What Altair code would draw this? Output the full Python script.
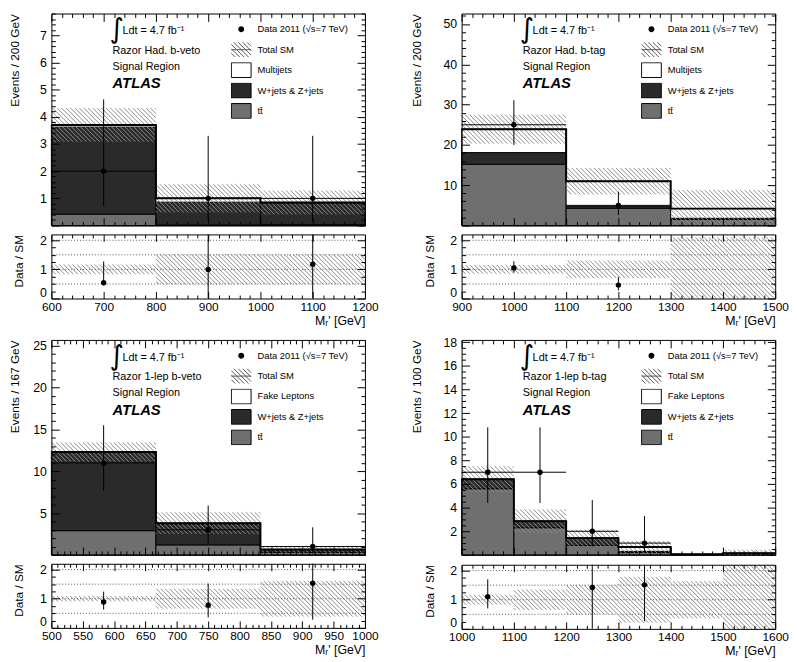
import numpy as np
import pandas as pd
import altair as alt

# ---------------------------------------------------------------
# values (events per bin, data with Poisson bars)
# ---------------------------------------------------------------
# Razor Had. b-veto
hv_edges = [600, 800, 1000, 1200]
hv_ttbar = [0.42, 0.02, 0.03]
hv_wz = [3.20, 0.84, 0.80]
hv_other = [0.08, 0.14, 0.02]
hv_err = [0.62, 0.52, 0.44]
hv_data_x = [700, 900, 1100]
hv_data = [2, 1, 1]
hv_data_hi = [4.64, 3.30, 3.30]
hv_data_lo = [0.71, 0.17, 0.17]
hv_ratio_x = [700, 900, 1100]
hv_ratio = [0.54, 1.00, 1.18]
hv_ratio_hi = [1.27, 3.30, 3.90]
hv_ratio_lo = [0.45, 0.00, 0.00]
hv_xticks = [600, 700, 800, 900, 1000, 1100, 1200]
hv_yticks = [1, 2, 3, 4, 5, 6, 7]
hv_text = ["Razor Had. b-veto", "Signal Region"]

# Razor Had. b-tag
hb_edges = [900, 1100, 1300, 1500]
hb_ttbar = [15.2, 4.3, 1.5]
hb_wz = [2.9, 0.5, 0.3]
hb_other = [5.8, 6.2, 2.4]
hb_err = [3.6, 3.3, 4.6]
hb_data_x = [1000, 1200]
hb_data = [25, 5]
hb_data_hi = [31.1, 8.4]
hb_data_lo = [20.0, 2.6]
hb_ratio_x = [1000, 1200]
hb_ratio = [1.05, 0.46]
hb_ratio_hi = [1.28, 0.74]
hb_ratio_lo = [0.89, 0.28]
hb_xticks = [900, 1000, 1100, 1200, 1300, 1400, 1500]
hb_yticks = [10, 20, 30, 40, 50]
hb_text = ["Razor Had. b-tag", "Signal Region"]

# Razor 1-lep b-veto
lv_edges = [500, 666.7, 833.3, 1000]
lv_ttbar = [2.9, 1.2, 0.3]
lv_wz = [9.35, 2.5, 0.33]
lv_other = [0.05, 0.1, 0.02]
lv_err = [1.15, 1.3, 0.4]
lv_data_x = [583.3, 750, 916.7]
lv_data = [11, 3, 1]
lv_data_hi = [15.5, 5.9, 3.3]
lv_data_lo = [7.7, 1.4, 0.17]
lv_ratio_x = [583.3, 750, 916.7]
lv_ratio = [0.89, 0.78, 1.53]
lv_ratio_hi = [1.24, 1.52, 3.5]
lv_ratio_lo = [0.63, 0.36, 0.28]
lv_xticks = [500, 550, 600, 650, 700, 750, 800, 850, 900, 950, 1000]
lv_yticks = [5, 10, 15, 20, 25]
lv_text = ["Razor 1-lep b-veto", "Signal Region"]

# Razor 1-lep b-tag
lb_edges = [1000, 1100, 1200, 1300, 1400, 1500, 1600]
lb_ttbar = [5.6, 2.3, 0.8, 0.2, 0.03, 0.1]
lb_wz = [0.8, 0.55, 0.62, 0.1, 0.01, 0.0]
lb_other = [0.0, 0.0, 0.0, 0.36, 0.01, 0.05]
lb_err = [1.1, 1.0, 0.71, 0.52, 0.032, 0.3]
lb_data_x = [1050, 1150, 1250, 1350]
lb_data = [7, 7, 2, 1]
lb_data_hi = [10.8, 10.8, 4.64, 3.3]
lb_data_lo = [4.4, 4.4, 0.71, 0.17]
lb_ratio_x = [1050, 1250, 1350]
lb_ratio = [1.10, 1.42, 1.51]
lb_ratio_hi = [1.70, 3.3, 3.5]
lb_ratio_lo = [0.70, 0.0, 0.26]
lb_xticks = [1000, 1100, 1200, 1300, 1400, 1500, 1600]
lb_yticks = [2, 4, 6, 8, 10, 12, 14, 16, 18]
lb_text = ["Razor 1-lep b-tag", "Signal Region"]

ratio_guides = [0.5, 1.0, 1.5, 2.0]

# ---------------------------------------------------------------
# style
# ---------------------------------------------------------------
FONT = "Liberation Sans"
W, HR = 318, 65
RMAX = 2.2
TT_GREY = "#6f6f6f"
WZ_GREY = "#2a2a2a"
HATCH_GREY = "#8c8c8c"
DATA_LABEL = "Data 2011 (\u221as=7 TeV)"
XTITLE = "M\u1d63' [GeV]"
LUMI = "Ldt = 4.7 fb\u207b\u00b9"

BOX = "M-1,-0.75H1V0.75H-1Z"
# dot with two zero-area edge strokes so that its legend row is as tall as the boxes
DOT = "M-1,-0.75L-1,0.75M1,-0.75L1,0.75M0.3,0A0.3,0.3,0,1,1,-0.3,0A0.3,0.3,0,1,1,0.3,0Z"


def hatch_symbol(step=0.45):
    segs = ["M-1,0L1,0"]
    for k in range(int(np.ceil(-1.75 / step)), int(np.floor(1.75 / step)) + 1):
        c = k * step
        xs, xe = max(-1.0, -0.75 + c), min(1.0, 0.75 + c)
        if xe > xs:
            segs.append(f"M{xs:.3f},{xs - c:.3f}L{xe:.3f},{xe - c:.3f}")
    return "".join(segs)


def ticks_between(lo, hi, step):
    n = int(np.floor((hi - lo) / step + 1e-6))
    return [round(lo + i * step, 6) for i in range(n + 1)]


def tick_len(step, major, minor):
    test = f"abs(datum.value / {step} - round(datum.value / {step})) < 0.001"
    return {"condition": {"test": test, "value": major}, "value": minor}


def hatch_frame(edges, lo, hi, xdom, ydom, h, step=4.5):
    # diagonal hatch segments of an error band, in data units
    sx = W / (xdom[1] - xdom[0])
    sy = h / (ydom[1] - ydom[0])
    rows = []
    for x0, x1, b0, b1 in zip(edges[:-1], edges[1:], lo, hi):
        b0, b1 = max(b0, ydom[0]), min(b1, ydom[1])
        if b1 <= b0:
            continue
        px0, px1 = (x0 - xdom[0]) * sx, (x1 - xdom[0]) * sx
        top, bot = (ydom[1] - b1) * sy, (ydom[1] - b0) * sy
        for k in range(int(np.floor((px0 - bot) / step)), int(np.ceil((px1 - top) / step)) + 1):
            c = k * step
            xs, xe = max(px0, top + c), min(px1, bot + c)
            if xe - xs < 0.5:
                continue
            rows.append({"hx": xdom[0] + xs / sx, "hx2": xdom[0] + xe / sx,
                         "hy": ydom[1] - (xs - c) / sy, "hy2": ydom[1] - (xe - c) / sy})
    return pd.DataFrame(rows, columns=["hx", "hx2", "hy", "hy2"])


def guides(frame, xf, yf, xs, ys, xdom, ydom, xstep, ystep, h, ylabels, ytitle, ext,
           xlen, ylen, xlabels=None):
    common = dict(labels=False, title=None, grid=False, domain=True, domainColor="black",
                  domainWidth=1, ticks=True, tickColor="black", tickWidth=1, zindex=1,
                  minExtent=0, maxExtent=0)
    xv = ticks_between(xdom[0], xdom[1], xstep[1])
    yv = ticks_between(ydom[0], ydom[1], ystep[1])
    xt = tick_len(xstep[0], *xlen)
    yt = tick_len(ystep[0], *ylen)
    ax_b = alt.Axis(orient="top", offset=-h, values=xv, tickSize=xt, **common)
    ax_t = alt.Axis(orient="bottom", offset=-h, values=xv, tickSize=xt, **common)
    ay_l = alt.Axis(orient="right", offset=-W, values=yv, tickSize=yt, **common)
    ay_r = alt.Axis(orient="left", offset=-W, values=yv, tickSize=yt, **common)
    zero = "datum.value == 0"
    ay_lab = alt.Axis(orient="left", values=ylabels, ticks=False, tickSize=0, domain=False,
                      grid=False, labelPadding=5, labelFontSize=12.5, labelColor="black",
                      labelFont=FONT, labelOverlap=False,
                      labelBaseline={"condition": {"test": zero, "value": "alphabetic"},
                                     "value": "middle"},
                      labelOffset={"condition": {"test": zero, "value": -2}, "value": 0},
                      title=ytitle, titleFont=FONT,
                      titleFontSize=12, titleFontWeight="normal", titleColor="black",
                      titleAnchor="end", titlePadding=4, minExtent=ext, maxExtent=ext)
    ax_lab = None
    if xlabels is not None:
        ax_lab = alt.Axis(orient="bottom", values=xlabels, format="d", ticks=False, tickSize=0,
                          domain=False, grid=False, labelPadding=3, labelFontSize=12,
                          labelColor="black", labelFont=FONT, labelFlush=False,
                          labelOverlap=False, title=XTITLE, titleFont=FONT, titleFontSize=12.5,
                          titleFontWeight="normal", titleColor="black", titleAnchor="end",
                          titlePadding=2)
    dots = alt.Chart(frame).mark_point(opacity=0)
    third_x = alt.X(f"{xf}:Q", scale=xs, axis=ax_lab) if ax_lab is not None else alt.X(
        f"{xf}:Q", scale=xs, axis=None)
    return [
        dots.encode(x=alt.X(f"{xf}:Q", scale=xs, axis=ax_b), y=alt.Y(f"{yf}:Q", scale=ys, axis=ay_l)),
        dots.encode(x=alt.X(f"{xf}:Q", scale=xs, axis=ax_t), y=alt.Y(f"{yf}:Q", scale=ys, axis=ay_r)),
        dots.encode(x=third_x, y=alt.Y(f"{yf}:Q", scale=ys, axis=ay_lab)),
    ]


def panel(p):
    hm = p["hm"]
    edges = np.array(p["edges"], dtype=float)
    s1 = np.array(p["ttbar"], dtype=float)
    s2 = s1 + np.array(p["wz"], dtype=float)
    tot = s2 + np.array(p["other"], dtype=float)
    err = np.array(p["err"], dtype=float)
    xdom = [float(edges[0]), float(edges[-1])]
    ydom = [0.0, p["ymax"]]
    rdom = [0.0, RMAX]
    xs = alt.Scale(domain=xdom, nice=False, zero=False)
    ys = alt.Scale(domain=ydom, nice=False, zero=False)
    rs = alt.Scale(domain=rdom, nice=False, zero=False)

    bins = pd.DataFrame({"lo": edges[:-1], "hi": edges[1:], "zero": 0.0,
                         "s1": s1, "s2": s2, "tot": tot})

    def X(f):
        return alt.X(f"{f}:Q", scale=xs, axis=None)

    def Y(f):
        return alt.Y(f"{f}:Q", scale=ys, axis=None)

    def R(f):
        return alt.Y(f"{f}:Q", scale=rs, axis=None)

    def stack(lo, hi, colour):
        return alt.Chart(bins).mark_rect(fill=colour, stroke="black", strokeWidth=1).encode(
            x=X("lo"), x2="hi:Q", y=Y(lo), y2=f"{hi}:Q")

    layers = [stack("zero", "s1", TT_GREY), stack("s1", "s2", WZ_GREY), stack("s2", "tot", "white")]

    band = hatch_frame(edges, tot - err, tot + err, xdom, ydom, hm)
    layers.append(alt.Chart(band).mark_rule(color=HATCH_GREY, strokeWidth=1).encode(
        x=X("hx"), x2="hx2:Q", y=Y("hy"), y2="hy2:Q"))

    step_df = pd.DataFrame({"x": edges, "y": list(tot) + [tot[-1]]})
    layers.append(alt.Chart(step_df).mark_line(interpolate="step-after", color="black",
                                               strokeWidth=2).encode(x=X("x"), y=Y("y")))

    idx = np.searchsorted(edges, p["data_x"]) - 1
    pts = pd.DataFrame({"x": p["data_x"], "v": p["data"], "hi": p["data_hi"],
                        "lo": p["data_lo"], "b0": edges[idx], "b1": edges[idx + 1]})
    layers.append(alt.Chart(pts).mark_rule(color="black", strokeWidth=1).encode(
        x=X("b0"), x2="b1:Q", y=Y("v")))
    layers.append(alt.Chart(pts).mark_rule(color="black", strokeWidth=1).encode(
        x=X("x"), y=Y("lo"), y2="hi:Q"))
    layers.append(alt.Chart(pts).mark_circle(size=30, color="black", opacity=1).encode(
        x=X("x"), y=Y("v")))

    note = pd.DataFrame({"n": [0]})

    def txt(s, x, y, font=FONT, **kw):
        return alt.Chart(note).mark_text(align="left", baseline="middle", font=font,
                                         color="black", **kw).encode(
            x=alt.value(x), y=alt.value(y), text=alt.value(s))

    layers += [
        txt("\u222b", 59, 17, font="DejaVu Sans", fontSize=28),
        txt(LUMI, 72, 18, fontSize=11),
        txt("\n".join(p["text"]), 62, 38, fontSize=11, lineBreak="\n", lineHeight=16),
        txt("ATLAS", 62, 71, fontSize=15, fontWeight="bold", fontStyle="italic"),
    ]

    cats = [DATA_LABEL, "Total SM", p["other_name"], "W+jets & Z+jets", "tt\u0304"]
    leg = alt.Legend(title=None, orient="none", legendX=182, legendY=8, symbolSize=400,
                     symbolStrokeWidth=1, symbolOpacity=1, labelFont=FONT, labelFontSize=9.5,
                     labelColor="black", labelOffset=6, rowPadding=4.7, clipHeight=16,
                     padding=0)
    layers.append(alt.Chart(pd.DataFrame({"cat": cats})).transform_filter("false").mark_point(
        filled=True, opacity=1).encode(
        x=alt.value(0), y=alt.value(0),
        fill=alt.Fill("cat:N", scale=alt.Scale(domain=cats, range=["black", "white", "white", WZ_GREY, TT_GREY]), legend=leg),
        shape=alt.Shape("cat:N", scale=alt.Scale(domain=cats, range=[DOT, hatch_symbol(), BOX, BOX, BOX]), legend=leg),
        stroke=alt.Stroke("cat:N", scale=alt.Scale(domain=cats, range=["transparent", "#555555", "black", "black", "black"]), legend=leg),
    ))

    layers += guides(bins, "lo", "zero", xs, ys, xdom, ydom, p["xstep"], p["ystep"], hm,
                     p["yticks"], p["ytitle"], p["ext"], (8, 4), (8, 4))
    main = alt.layer(*layers).properties(width=W, height=hm).resolve_axis(
        x="independent", y="independent")

    # ratio pad
    rband = hatch_frame(edges, 1 - err / tot, 1 + err / tot, xdom, rdom, HR)
    rpts = pd.DataFrame({"x": p["ratio_x"], "v": p["ratio"], "hi": p["ratio_hi"], "lo": p["ratio_lo"]})
    rl = [
        alt.Chart(rband).mark_rule(color=HATCH_GREY, strokeWidth=1).encode(
            x=X("hx"), x2="hx2:Q", y=R("hy"), y2="hy2:Q"),
        alt.Chart(pd.DataFrame({"g": ratio_guides})).mark_rule(
            color="#555555", strokeDash=[1, 2], strokeWidth=1).encode(y=R("g")),
        alt.Chart(rpts).mark_rule(color="black", strokeWidth=1, clip=True).encode(
            x=X("x"), y=R("lo"), y2="hi:Q"),
        alt.Chart(rpts).mark_circle(size=30, color="black", opacity=1, clip=True).encode(
            x=X("x"), y=R("v")),
    ]
    rframe = pd.DataFrame({"lo": edges[:-1], "zero": 0.0})
    rl += guides(rframe, "lo", "zero", xs, rs, xdom, rdom, p["xstep"], (1, 0.25), HR,
                 [0, 1, 2], "Data / SM", 22, (7, 3.5), (8, 4), xlabels=p["xticks"])
    ratio = alt.layer(*rl).properties(width=W, height=HR).resolve_axis(
        x="independent", y="independent")

    return alt.vconcat(main, ratio, spacing=5).resolve_scale(
        fill="independent", shape="independent", stroke="independent")


pa = panel(dict(edges=hv_edges, ttbar=hv_ttbar, wz=hv_wz, other=hv_other, err=hv_err,
                data_x=hv_data_x, data=hv_data, data_hi=hv_data_hi, data_lo=hv_data_lo,
                ratio_x=hv_ratio_x, ratio=hv_ratio, ratio_hi=hv_ratio_hi, ratio_lo=hv_ratio_lo,
                xticks=hv_xticks, yticks=hv_yticks, text=hv_text, other_name="Multijets",
                ytitle="Events / 200 GeV", ymax=7.8, xstep=(100, 20), ystep=(1, 0.2), ext=26,
                hm=215))
pb = panel(dict(edges=hb_edges, ttbar=hb_ttbar, wz=hb_wz, other=hb_other, err=hb_err,
                data_x=hb_data_x, data=hb_data, data_hi=hb_data_hi, data_lo=hb_data_lo,
                ratio_x=hb_ratio_x, ratio=hb_ratio, ratio_hi=hb_ratio_hi, ratio_lo=hb_ratio_lo,
                xticks=hb_xticks, yticks=hb_yticks, text=hb_text, other_name="Multijets",
                ytitle="Events / 200 GeV", ymax=52.6, xstep=(100, 20), ystep=(10, 2), ext=35,
                hm=215))
pc = panel(dict(edges=lv_edges, ttbar=lv_ttbar, wz=lv_wz, other=lv_other, err=lv_err,
                data_x=lv_data_x, data=lv_data, data_hi=lv_data_hi, data_lo=lv_data_lo,
                ratio_x=lv_ratio_x, ratio=lv_ratio, ratio_hi=lv_ratio_hi, ratio_lo=lv_ratio_lo,
                xticks=lv_xticks, yticks=lv_yticks, text=lv_text, other_name="Fake Leptons",
                ytitle="Events / 167 GeV", ymax=25.7, xstep=(50, 10), ystep=(5, 1), ext=26,
                hm=218))
pd_ = panel(dict(edges=lb_edges, ttbar=lb_ttbar, wz=lb_wz, other=lb_other, err=lb_err,
                 data_x=lb_data_x, data=lb_data, data_hi=lb_data_hi, data_lo=lb_data_lo,
                 ratio_x=lb_ratio_x, ratio=lb_ratio, ratio_hi=lb_ratio_hi, ratio_lo=lb_ratio_lo,
                 xticks=lb_xticks, yticks=lb_yticks, text=lb_text, other_name="Fake Leptons",
                 ytitle="Events / 100 GeV", ymax=18.2, xstep=(100, 20), ystep=(2, 0.5), ext=35,
                 hm=218))

indep = dict(fill="independent", shape="independent", stroke="independent")
top = alt.hconcat(pa, pb, spacing=31).resolve_scale(**indep)
bottom = alt.hconcat(pc, pd_, spacing=31).resolve_scale(**indep)

chart = alt.vconcat(top, bottom, spacing=9).resolve_scale(**indep).properties(
    padding={"left": 0, "top": 0, "right": 0, "bottom": 0}, background="white"
).configure(font=FONT).configure_view(strokeWidth=0)

chart.save("out.html", embed_options={"renderer": "svg", "actions": False})
